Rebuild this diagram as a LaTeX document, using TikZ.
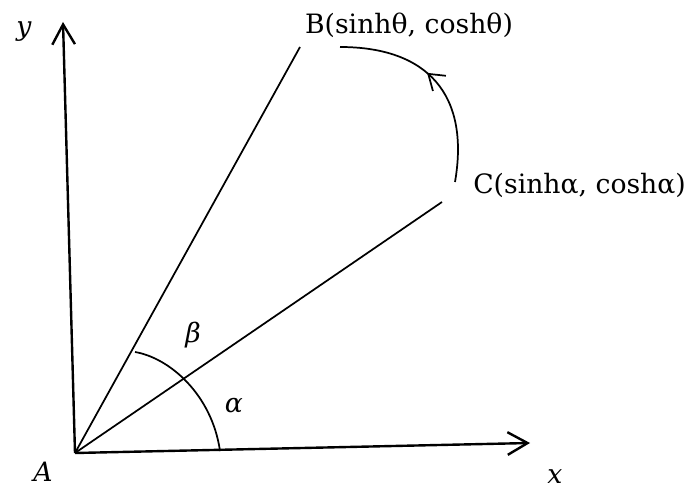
\documentclass[tikz,border=0pt]{standalone}
\usepackage{fontspec}
\setmainfont{DejaVu Serif}
\usetikzlibrary{arrows.meta,decorations.markings}

\begin{document}
\begin{tikzpicture}[
        x=0.75pt, y=-0.75pt,
        eje/.style={line width=1.8pt, -{Straight Barb[length=15pt, width=17pt, line width=1.8pt]}},
        rayo/.style={line width=1.3pt},
        etiqueta/.style={font=\fontsize{20}{24}\selectfont, inner sep=0pt},
        letra/.style={font=\fontsize{20}{24}\selectfont\itshape, inner sep=0pt},
        giro/.style={line width=1.3pt, postaction={decorate},
            decoration={markings, mark=at position 0.56 with {\arrow{Straight Barb[length=11pt, width=15pt, line width=1.3pt]}}}}
    ]
        \useasboundingbox (0,0) rectangle (692,491);

        \coordinate (origin) at (75,453);
        \coordinate (y-tip) at (63,22);
        \coordinate (x-tip) at (530,443);
        \coordinate (b-end) at (300,47);
        \coordinate (c-end) at (442,202);
        \coordinate (beta-start) at (135,352);
        \coordinate (alpha-end) at (220,451);
        \coordinate (turn-start) at (455,182);
        \coordinate (turn-end) at (340,47);

        \node[letra] (label-y) at (24,32) {y};
        \node[letra] (label-x) at (555,477) {x};
        \node[letra] (label-a) at (43,472) {A};
        \node[letra] (label-beta) at (193,335) {β};
        \node[letra] (label-alpha) at (234,406) {α};
        \node[etiqueta] (label-b) at (409,25) {B(sinhθ, coshθ)};
        \node[etiqueta, anchor=west] (label-c) at (473,185) {C(sinhα, coshα)};

        \draw[eje] (origin) -- (y-tip);
        \draw[eje] (origin) -- (x-tip);
        \draw[rayo] (origin) -- (b-end);
        \draw[rayo] (origin) -- (c-end);
        \draw[rayo] (beta-start) .. controls (170,358) and (212,395) .. (alpha-end);
        \draw[giro] (turn-start) .. controls (470,95) and (428,47) .. (turn-end);
    \end{tikzpicture}
\end{document}
